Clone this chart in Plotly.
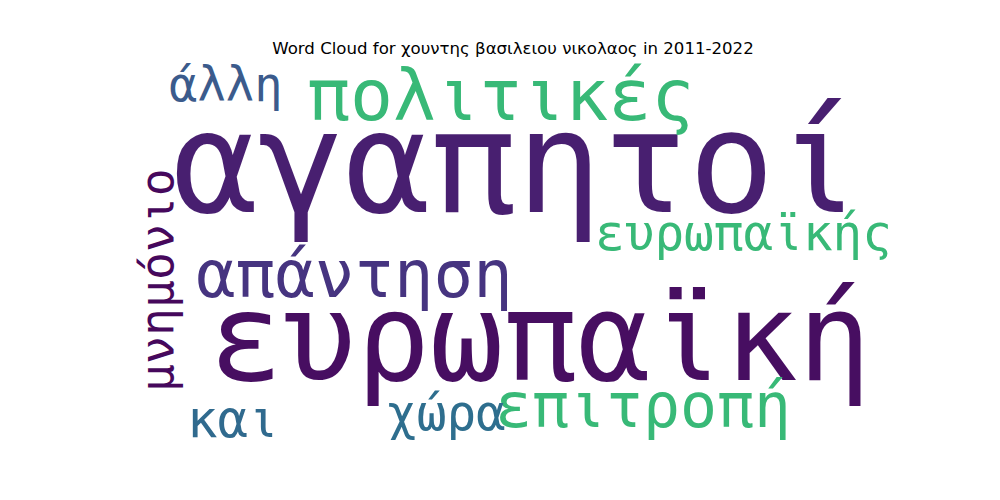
import plotly.graph_objects as go

# Word cloud data
words = ["αγαπητοί", "ευρωπαϊκή", "πολιτικές", "απάντηση", "επιτροπή",
         "ευρωπαϊκής", "άλλη", "μνημόνιο", "και", "χώρα"]
weights = [1.00, 0.855, 0.50, 0.46, 0.43, 0.345, 0.33, 0.325, 0.355, 0.345]
colors = ["#481f70", "#470e61", "#38b977", "#463480", "#38b977",
          "#38b977", "#3b5b8c", "#46085c", "#306a8e", "#2e6e8e"]
title_text = "Word Cloud for χουντης βασιλειου νικολαος in 2011-2022"

# Layout of the cloud (pixel coordinates of word centres, rotation)
cx = [508, 532, 492, 346, 635, 735, 218, 149, 225, 438]
cy = [154, 330, 87, 266, 398, 225, 76, 272, 411, 405]
rot = [0, 0, 0, 0, 0, 0, 0, -90, 0, 0]
MAX_SIZE = 143

fig = go.Figure()
fig.add_trace(go.Scatter(x=[0, 1000], y=[0, 500], mode="markers",
                         marker=dict(opacity=0), hoverinfo="skip", showlegend=False))
for w, wt, c, x, y, r in zip(words, weights, colors, cx, cy, rot):
    fig.add_annotation(x=x, y=y, text=w, showarrow=False, textangle=r,
                       xanchor="center", yanchor="middle",
                       font=dict(family="DejaVu Sans Mono", size=wt * MAX_SIZE, color=c))

fig.update_layout(
    width=1000, height=500,
    margin=dict(l=0, r=0, t=0, b=0),
    paper_bgcolor="white", plot_bgcolor="white",
    xaxis=dict(range=[0, 1000], visible=False, fixedrange=True),
    yaxis=dict(range=[500, 0], visible=False, fixedrange=True),
    title=dict(text=title_text, x=0.505, xanchor="center", y=1 - 40 / 500, yanchor="middle",
               font=dict(family="DejaVu Sans", size=16.6, color="black")),
)
fig.write_html("out.html")
